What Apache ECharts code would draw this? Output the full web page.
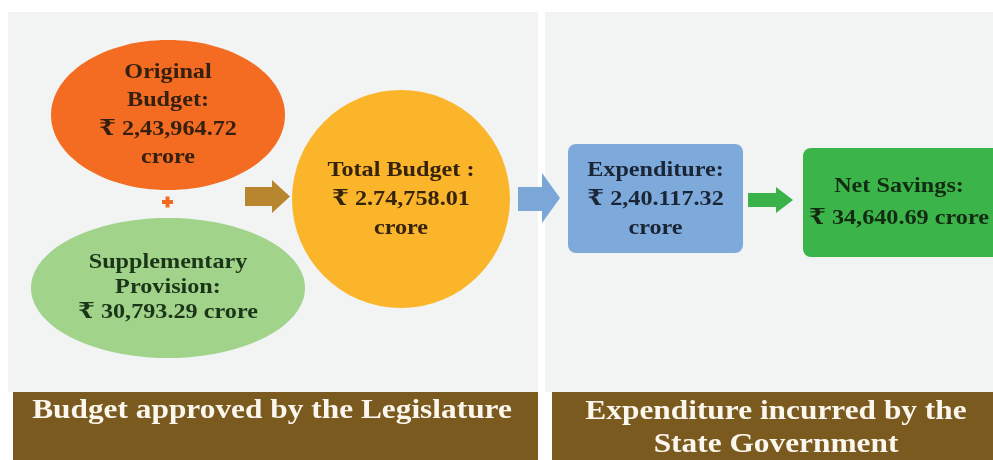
<!DOCTYPE html>
<html>
<head>
<meta charset="utf-8">
<script src="https://cdn.jsdelivr.net/npm/echarts@6/dist/echarts.min.js"></script>
<style>
html, body { margin: 0; padding: 0; background: #ffffff; }
#app { width: 993px; height: 460px; }
</style>
</head>
<body>
<div id="app"></div>
<script>
// values shown in the diagram
var nodeTitles = ['Original\nBudget:', 'Supplementary\nProvision:', 'Total Budget :', 'Expenditure:', 'Net Savings:'];
var nodeValues = ['2,43,964.72', '30,793.29', '2.74,758.01', '2,40.117.32', '34,640.69'];
var unitText = 'crore';
var rupee = '\u20B9';
var sectionLabels = ['Budget approved by the Legislature', 'Expenditure incurred by the\nState Government'];

// layout (positions and styles only)
var serif = '"Liberation Serif", "DejaVu Serif", serif';
var nodeShapes = [
	{type: 'ellipse', cx: 168, cy: 115, rx: 117, ry: 75, fill: '#f36c22', text: '#35200f', ty: 115, lh: 28.5, joinValue: false},
	{type: 'ellipse', cx: 168, cy: 288, rx: 137, ry: 70, fill: '#a2d38a', text: '#1b3519', ty: 287, lh: 25, joinValue: true},
	{type: 'circle', cx: 401, cy: 199, r: 109, fill: '#fbb52b', text: '#35230c', ty: 199, lh: 29, joinValue: false},
	{type: 'rect', x: 568, y: 144, w: 175, h: 109, r: 8, fill: '#7eaadb', text: '#1a2535', ty: 199, lh: 29, joinValue: false},
	{type: 'rect', x: 803, y: 148, w: 200, h: 109, r: 8, fill: '#3bb44a', text: '#142b13', ty: 202, lh: 32, joinValue: true}
];
var arrows = [
	{x0: 245, x1: 272, x2: 290, top: 180, bot: 213, bt: 187, bb: 206, fill: '#b8862f'},
	{x0: 518, x1: 542, x2: 560, top: 173, bot: 223, bt: 187, bb: 211, fill: '#7aa6d8'},
	{x0: 748, x1: 776, x2: 793, top: 187, bot: 213, bt: 193, bb: 207, fill: '#39b349'}
];

function buildText(i){
	var valueLine = rupee + ' ' + nodeValues[i];
	if(nodeShapes[i].joinValue){
		return nodeTitles[i] + '\n' + valueLine + ' ' + unitText;
	}
	return nodeTitles[i] + '\n' + valueLine + '\n' + unitText;
}

var graphics = [];

// panels
graphics.push({type: 'rect', shape: {x: 8, y: 12, width: 530, height: 380}, style: {fill: '#f2f3f3'}, z: 0});
graphics.push({type: 'rect', shape: {x: 545, y: 12, width: 448, height: 380}, style: {fill: '#f2f3f3'}, z: 0});

// nodes
for (var i = 0; i < nodeShapes.length; i++) {
	var n = nodeShapes[i];
	var el;
	if(n.type == 'ellipse'){
		el = {type: 'ellipse', shape: {cx: n.cx, cy: n.cy, rx: n.rx, ry: n.ry}};
	}else if(n.type == 'circle'){
		el = {type: 'circle', shape: {cx: n.cx, cy: n.cy, r: n.r}};
	}else{
		el = {type: 'rect', shape: {x: n.x, y: n.y, width: n.w, height: n.h, r: n.r}};
	}
	el.style = {fill: n.fill};
	el.z = 2;
	graphics.push(el);

	var tx = n.type == 'rect' ? n.x + n.w / 2 : n.cx;
	if(i == 4){ tx = 899; }
	graphics.push({
		type: 'text', x: tx, y: n.ty, z: 3, scaleX: 1.1,
		style: {
			text: buildText(i),
			fill: n.text,
			font: 'bold 22px ' + serif,
			lineHeight: n.lh,
			align: 'center',
			verticalAlign: 'middle'
		}
	});
}

// plus sign
graphics.push({type: 'rect', shape: {x: 162, y: 200, width: 11, height: 4}, style: {fill: '#f26a22'}, z: 3});
graphics.push({type: 'rect', shape: {x: 165.5, y: 196.5, width: 4, height: 11}, style: {fill: '#f26a22'}, z: 3});

// arrows
for (var j = 0; j < arrows.length; j++) {
	var a = arrows[j];
	var mid = (a.top + a.bot) / 2;
	graphics.push({
		type: 'polygon', z: 2,
		shape: {points: [[a.x0, a.bt], [a.x1, a.bt], [a.x1, a.top], [a.x2, mid], [a.x1, a.bot], [a.x1, a.bb], [a.x0, a.bb]]},
		style: {fill: a.fill}
	});
}

// bottom bars
var bars = [{x: 13, w: 525, tx: 272}, {x: 552, w: 441, tx: 776}];
for (var k = 0; k < bars.length; k++) {
	graphics.push({type: 'rect', shape: {x: bars[k].x, y: 392, width: bars[k].w, height: 68}, style: {fill: '#7b5a1f'}, z: 1});
	graphics.push({
		type: 'text', x: bars[k].tx, y: k == 0 ? 411 : 428, z: 3, scaleX: 1.12,
		style: {
			text: sectionLabels[k],
			fill: '#fbf6ee',
			font: 'bold 28px ' + serif,
			lineHeight: 33,
			align: 'center',
			verticalAlign: 'middle'
		}
	});
}

var myChart = echarts.init(document.getElementById('app'), null, {renderer: 'canvas'});
myChart.setOption({
	animation: false,
	backgroundColor: '#ffffff',
	graphic: graphics
});
</script>
</body>
</html>
